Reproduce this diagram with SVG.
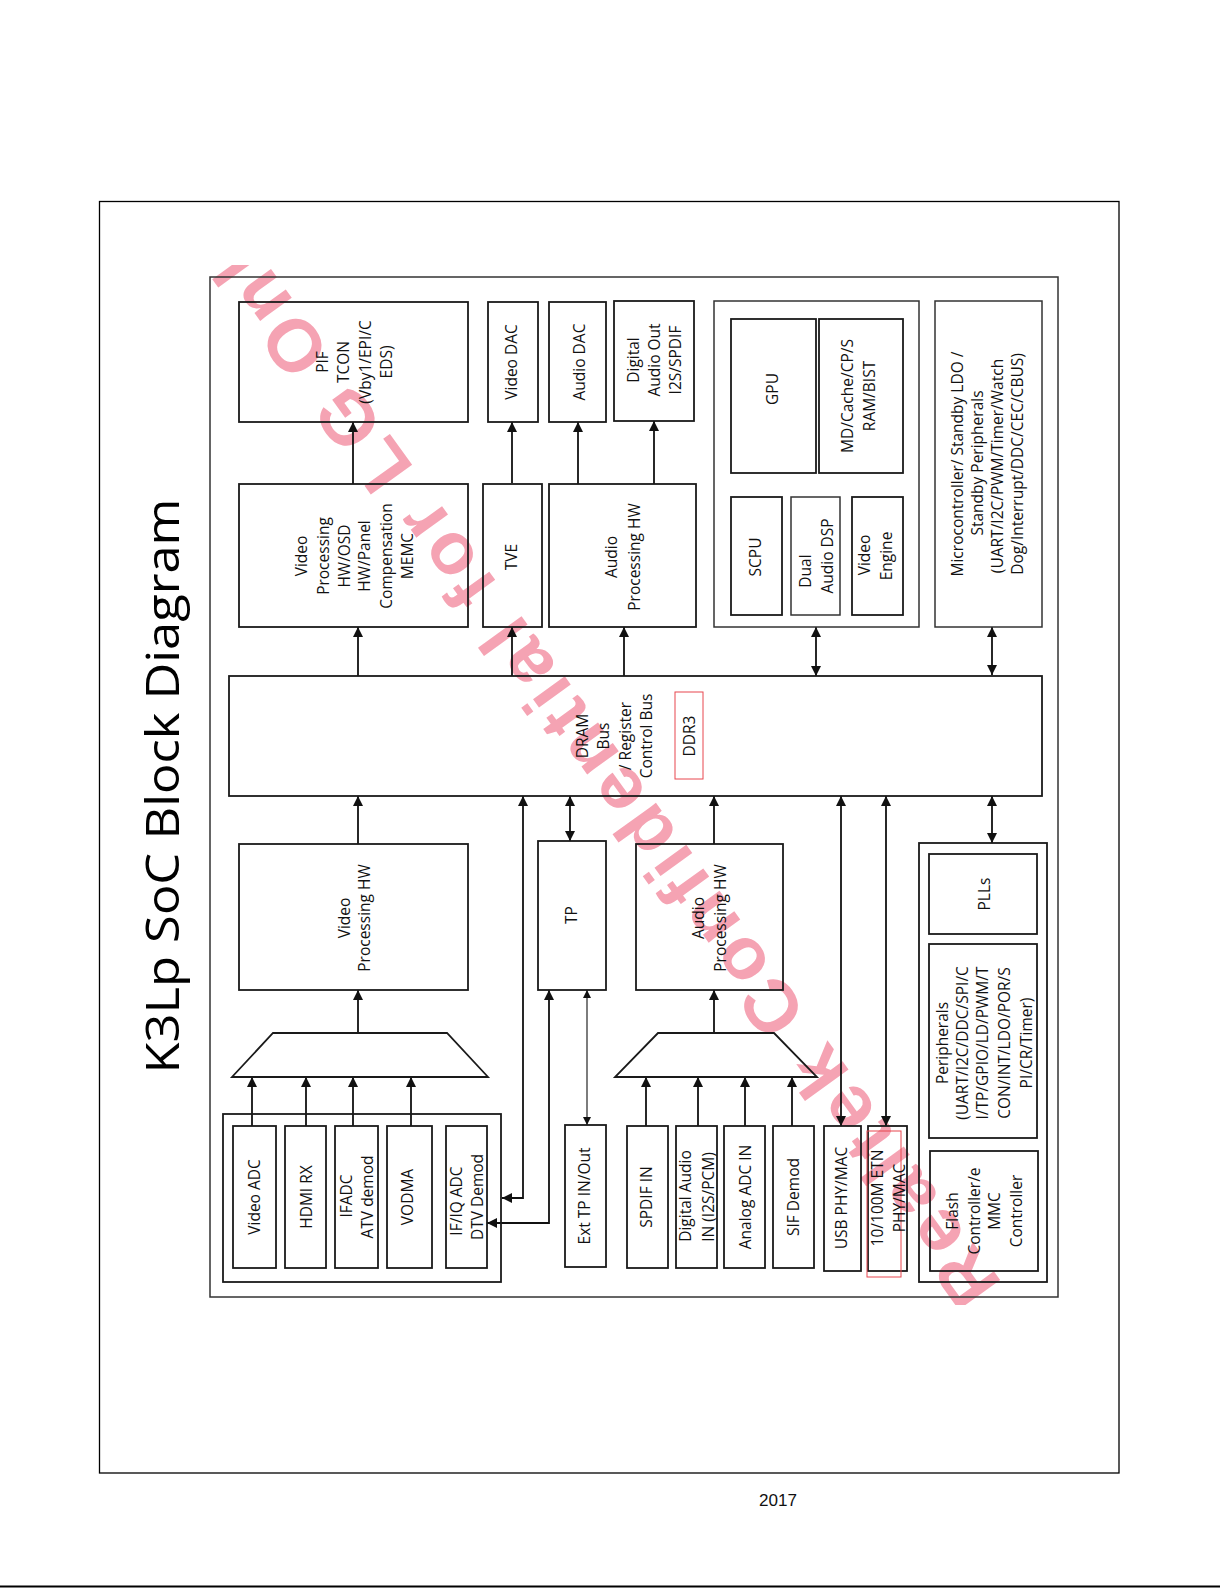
<svg xmlns="http://www.w3.org/2000/svg" width="1220" height="1588" viewBox="0 0 1220 1588">
<defs>
<style>
.t{font-family:"Open Sans","DejaVu Sans",sans-serif;font-size:15.5px;fill:#111;text-anchor:middle}
.bx{fill:none;stroke:#1a1a1a;stroke-width:1.8}
.gp{fill:none;stroke:#333;stroke-width:1.5}
.ln{fill:none;stroke:#111;stroke-width:1.8}
.thin{fill:none;stroke:#111;stroke-width:1.1}
.red{fill:none;stroke:#e8474f;stroke-width:1}
.wm{font-family:"Liberation Sans",Arial,sans-serif;font-size:74px;font-weight:bold;fill:#f5a3b3}
</style>
<marker id="ah" viewBox="0 0 10 10" refX="10" refY="5" markerWidth="10" markerHeight="10" markerUnits="userSpaceOnUse" orient="auto-start-reverse"><path d="M0,0 L10,5 L0,10 z" fill="#111"/></marker>
<marker id="ahs" viewBox="0 0 10 10" refX="10" refY="5" markerWidth="8" markerHeight="8" markerUnits="userSpaceOnUse" orient="auto-start-reverse"><path d="M0,0 L10,5 L0,10 z" fill="#111"/></marker>
<clipPath id="wmclip"><rect x="205" y="265" width="858" height="1040"/></clipPath>
</defs>
<rect width="1220" height="1588" fill="#fff"/>
<rect x="99.5" y="201.5" width="1019.5" height="1271.5" fill="none" stroke="#000" stroke-width="1.3"/>
<line x1="0" y1="1586.5" x2="1220" y2="1586.5" stroke="#000" stroke-width="2"/>
<text x="778" y="1506" font-family="Liberation Sans,Arial,sans-serif" font-size="16" text-anchor="middle" textLength="38" lengthAdjust="spacingAndGlyphs" fill="#111">2017</text>
<text transform="translate(179,786) rotate(-90)" font-family="Open Sans,DejaVu Sans,sans-serif" font-size="46" text-anchor="middle" textLength="575" lengthAdjust="spacingAndGlyphs" fill="#000">K3Lp SoC Block Diagram</text>
<g id="watermark" clip-path="url(#wmclip)">
<text class="wm" transform="translate(1003,1284) rotate(234.2)" textLength="1330" lengthAdjust="spacing">Realtek Confidential for LG Only</text>
</g>
<rect id="frame" x="210" y="277" width="848" height="1020" class="gp"/>
<g id="connectors">
<line class="ln" x1="353" y1="484" x2="353" y2="422" marker-end="url(#ah)"/>
<line class="ln" x1="512" y1="483" x2="512" y2="422" marker-end="url(#ah)"/>
<line class="ln" x1="578" y1="484" x2="578" y2="422" marker-end="url(#ah)"/>
<line class="ln" x1="654" y1="484" x2="654" y2="421" marker-end="url(#ah)"/>
<line class="ln" x1="358" y1="676" x2="358" y2="627" marker-end="url(#ah)"/>
<line class="ln" x1="512" y1="676" x2="512" y2="627" marker-end="url(#ah)"/>
<line class="ln" x1="624" y1="676" x2="624" y2="627" marker-end="url(#ah)"/>
<line class="ln" x1="816" y1="627" x2="816" y2="676" marker-start="url(#ah)" marker-end="url(#ah)"/>
<line class="ln" x1="992" y1="627" x2="992" y2="675" marker-start="url(#ah)" marker-end="url(#ah)"/>
<line class="ln" x1="358" y1="844" x2="358" y2="796" marker-end="url(#ah)"/>
<path class="ln" d="M502,1198 L523,1198 L523,796" marker-start="url(#ah)" marker-end="url(#ah)"/>
<line class="ln" x1="570" y1="796" x2="570" y2="841" marker-start="url(#ah)" marker-end="url(#ah)"/>
<path class="ln" d="M487,1223 L549,1223 L549,990" marker-start="url(#ah)" marker-end="url(#ah)"/>
<line class="thin" x1="587" y1="990" x2="587" y2="1125" marker-start="url(#ahs)" marker-end="url(#ahs)"/>
<line class="ln" x1="714" y1="844" x2="714" y2="796" marker-end="url(#ah)"/>
<line class="ln" x1="841" y1="796" x2="841" y2="1126" marker-start="url(#ah)" marker-end="url(#ah)"/>
<line class="ln" x1="886" y1="796" x2="886" y2="1126" marker-start="url(#ah)" marker-end="url(#ah)"/>
<line class="ln" x1="992" y1="796" x2="992" y2="843" marker-start="url(#ah)" marker-end="url(#ah)"/>
<line class="ln" x1="358" y1="1033" x2="358" y2="990" marker-end="url(#ah)"/>
<line class="ln" x1="252" y1="1126" x2="252" y2="1077" marker-end="url(#ah)"/>
<line class="ln" x1="306" y1="1126" x2="306" y2="1077" marker-end="url(#ah)"/>
<line class="ln" x1="353" y1="1126" x2="353" y2="1077" marker-end="url(#ah)"/>
<line class="ln" x1="411" y1="1126" x2="411" y2="1077" marker-end="url(#ah)"/>
<line class="ln" x1="714" y1="1033" x2="714" y2="990" marker-end="url(#ah)"/>
<line class="ln" x1="646" y1="1126" x2="646" y2="1077" marker-end="url(#ah)"/>
<line class="ln" x1="698" y1="1126" x2="698" y2="1077" marker-end="url(#ah)"/>
<line class="ln" x1="745" y1="1126" x2="745" y2="1077" marker-end="url(#ah)"/>
<line class="ln" x1="792" y1="1126" x2="792" y2="1077" marker-end="url(#ah)"/>
</g>
<g id="pif"><rect class="bx" x="239" y="302" width="229" height="120"/>
<text class="t" transform="translate(328,362) rotate(-90)">PIF</text>
<text class="t" transform="translate(349,362) rotate(-90)">TCON</text>
<text class="t" transform="translate(370.5,362) rotate(-90)">(Vby1/EPI/C</text>
<text class="t" transform="translate(392,362) rotate(-90)">EDS)</text></g>
<g id="video-dac"><rect class="bx" x="488" y="302" width="50" height="120"/>
<text class="t" transform="translate(517,362) rotate(-90)">Video DAC</text></g>
<g id="audio-dac"><rect class="bx" x="549" y="302" width="57" height="120"/>
<text class="t" transform="translate(585,362) rotate(-90)">Audio DAC</text></g>
<g id="digital-audio-out"><rect class="bx" x="614" y="301" width="80" height="120"/>
<text class="t" transform="translate(639,360) rotate(-90)">Digital</text>
<text class="t" transform="translate(660,360) rotate(-90)">Audio Out</text>
<text class="t" transform="translate(681,360) rotate(-90)">I2S/SPDIF</text></g>
<g id="video-proc-osd"><rect class="bx" x="239" y="484" width="229" height="143"/>
<text class="t" transform="translate(307,556) rotate(-90)">Video</text>
<text class="t" transform="translate(329,556) rotate(-90)">Processing</text>
<text class="t" transform="translate(350,556) rotate(-90)">HW/OSD</text>
<text class="t" transform="translate(370,556) rotate(-90)">HW/Panel</text>
<text class="t" transform="translate(392,556) rotate(-90)">Compensation</text>
<text class="t" transform="translate(413,556) rotate(-90)">MEMC</text></g>
<g id="tve"><rect class="bx" x="483" y="484" width="59" height="143"/>
<text class="t" transform="translate(517,557) rotate(-90)">TVE</text></g>
<g id="audio-proc-top"><rect class="bx" x="549" y="484" width="147" height="143"/>
<text class="t" transform="translate(617,557) rotate(-90)">Audio</text>
<text class="t" transform="translate(640,557) rotate(-90)">Processing HW</text></g>
<g id="cpu-group"><rect class="gp" x="714" y="301" width="205" height="326"/>
<g id="gpu"><rect class="bx" x="731" y="319" width="85" height="154"/>
<text class="t" transform="translate(778,389) rotate(-90)">GPU</text></g>
<g id="md-cache"><rect class="bx" x="819" y="319" width="84" height="154"/>
<text class="t" transform="translate(853,396) rotate(-90)">MD/Cache/CP/S</text>
<text class="t" transform="translate(875,396) rotate(-90)">RAM/BIST</text></g>
<g id="scpu"><rect class="bx" x="731" y="497" width="51" height="118"/>
<text class="t" transform="translate(761,557) rotate(-90)">SCPU</text></g>
<g id="dual-dsp"><rect class="gp" x="791" y="497" width="49" height="118"/>
<text class="t" transform="translate(811,571) rotate(-90)">Dual</text>
<text class="t" transform="translate(833,556) rotate(-90)">Audio DSP</text></g>
<g id="video-engine"><rect class="bx" x="852" y="497" width="51" height="118"/>
<text class="t" transform="translate(870,555) rotate(-90)">Video</text>
<text class="t" transform="translate(892,556) rotate(-90)">Engine</text></g>
</g>
<g id="microcontroller"><rect class="gp" x="935" y="301" width="107" height="326"/>
<text class="t" transform="translate(963,464) rotate(-90)">Microcontroller/ Standby LDO /</text>
<text class="t" transform="translate(983,463) rotate(-90)">Standby Peripherals</text>
<text class="t" transform="translate(1003,466) rotate(-90)">(UART/I2C/PWM/Timer/Watch</text>
<text class="t" transform="translate(1023,464) rotate(-90)">Dog/Interrupt/DDC/CEC/CBUS)</text></g>
<g id="bus"><rect class="bx" x="229" y="676" width="813" height="120"/>
<text class="t" transform="translate(588,736) rotate(-90)">DRAM</text>
<text class="t" transform="translate(609,736) rotate(-90)">Bus</text>
<text class="t" transform="translate(631,736) rotate(-90)">/ Register</text>
<text class="t" transform="translate(652,736) rotate(-90)">Control Bus</text>
<rect class="red" x="675" y="692" width="28" height="87"/>
<text class="t" transform="translate(695,736) rotate(-90)">DDR3</text></g>
<g id="video-proc"><rect class="bx" x="239" y="844" width="229" height="146"/>
<text class="t" transform="translate(350,918) rotate(-90)">Video</text>
<text class="t" transform="translate(370,918) rotate(-90)">Processing HW</text></g>
<g id="tp"><rect class="bx" x="538" y="841" width="68" height="149"/>
<text class="t" transform="translate(577,915) rotate(-90)">TP</text></g>
<g id="audio-proc"><rect class="bx" x="636" y="844" width="147" height="146"/>
<text class="t" transform="translate(704,918) rotate(-90)">Audio</text>
<text class="t" transform="translate(726,918) rotate(-90)">Processing HW</text></g>
<g id="sys-group"><rect class="bx" x="919" y="843" width="128" height="439"/>
<g id="plls"><rect class="bx" x="929" y="854" width="108" height="80"/>
<text class="t" transform="translate(990,894) rotate(-90)">PLLs</text></g>
<g id="peripherals"><rect class="bx" x="929" y="944" width="108" height="194"/>
<text class="t" transform="translate(948,1043) rotate(-90)">Peripherals</text>
<text class="t" transform="translate(968,1043) rotate(-90)">(UART/I2C/DDC/SPI/C</text>
<text class="t" transform="translate(988,1043) rotate(-90)">I/TP/GPIO/LD/PWM/T</text>
<text class="t" transform="translate(1010,1043) rotate(-90)">CON/INT/LDO/POR/S</text>
<text class="t" transform="translate(1032,1043) rotate(-90)">PI/CR/Timer)</text></g>
<g id="flash"><rect class="bx" x="930" y="1151" width="108" height="120"/>
<text class="t" transform="translate(958,1211) rotate(-90)">Flash</text>
<text class="t" transform="translate(980,1211) rotate(-90)">Controller/e</text>
<text class="t" transform="translate(1000,1211) rotate(-90)">MMC</text>
<text class="t" transform="translate(1022,1211) rotate(-90)">Controller</text></g>
</g>
<g id="mux-video"><polygon class="bx" points="273,1033 447,1033 488,1077 232,1077"/></g>
<g id="mux-audio"><polygon class="bx" points="658,1033 774,1033 817,1077 615,1077"/></g>
<g id="input-group"><rect class="bx" x="223" y="1114" width="278" height="168"/>
<g id="video-adc"><rect class="bx" x="233" y="1126" width="43" height="142"/>
<text class="t" transform="translate(260,1197) rotate(-90)">Video ADC</text></g>
<g id="hdmi-rx"><rect class="bx" x="285" y="1126" width="41" height="142"/>
<text class="t" transform="translate(312,1197) rotate(-90)">HDMI RX</text></g>
<g id="ifadc"><rect class="bx" x="335" y="1126" width="43" height="142"/>
<text class="t" transform="translate(352,1196) rotate(-90)">IFADC</text>
<text class="t" transform="translate(373,1197) rotate(-90)">ATV demod</text></g>
<g id="vodma"><rect class="bx" x="387" y="1126" width="45" height="142"/>
<text class="t" transform="translate(413,1197) rotate(-90)">VODMA</text></g>
<g id="ifiq-adc"><rect class="bx" x="446" y="1126" width="41" height="142"/>
<text class="t" transform="translate(462,1201) rotate(-90)">IF/IQ ADC</text>
<text class="t" transform="translate(483,1197) rotate(-90)">DTV Demod</text></g>
</g>
<g id="ext-tp"><rect class="bx" x="565" y="1125" width="41" height="142"/>
<text class="t" transform="translate(590,1196) rotate(-90)">Ext TP IN/Out</text></g>
<g id="spdif-in"><rect class="bx" x="627" y="1126" width="41" height="142"/>
<text class="t" transform="translate(652,1197) rotate(-90)">SPDIF IN</text></g>
<g id="digital-audio-in"><rect class="bx" x="676" y="1126" width="41" height="142"/>
<text class="t" transform="translate(691,1196) rotate(-90)">Digital Audio</text>
<text class="t" transform="translate(714,1197) rotate(-90)">IN (I2S/PCM)</text></g>
<g id="analog-adc-in"><rect class="bx" x="724" y="1126" width="41" height="142"/>
<text class="t" transform="translate(751,1197) rotate(-90)">Analog ADC IN</text></g>
<g id="sif-demod"><rect class="bx" x="773" y="1126" width="41" height="142"/>
<text class="t" transform="translate(799,1197) rotate(-90)">SIF Demod</text></g>
<g id="usb"><rect class="bx" x="824" y="1126" width="37" height="145"/>
<text class="t" transform="translate(847,1198) rotate(-90)">USB PHY/MAC</text></g>
<g id="etn"><rect class="bx" x="868" y="1126" width="39" height="145"/>
<rect class="red" x="867" y="1131" width="34" height="146"/>
<text class="t" transform="translate(883,1198) rotate(-90)">10/100M ETN</text>
<text class="t" transform="translate(905,1198) rotate(-90)">PHY/MAC</text></g>
</svg>
